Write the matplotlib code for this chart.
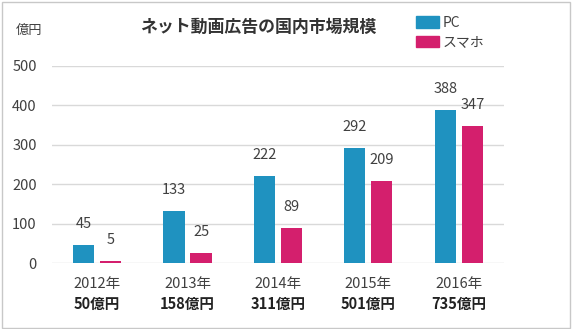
import matplotlib
matplotlib.use("Agg")
import matplotlib.pyplot as plt
import numpy as np
from matplotlib.patches import Rectangle, Patch
from matplotlib.transforms import blended_transform_factory

plt.rcParams['font.family'] = ['Noto Sans CJK JP', 'DejaVu Sans']

# data
years = ["2012年", "2013年", "2014年", "2015年", "2016年"]
totals = ["50億円", "158億円", "311億円", "501億円", "735億円"]
pc = [45, 133, 222, 292, 388]
smartphone = [5, 25, 89, 209, 347]

pc_color = "#1f92c0"
sp_color = "#d41f6d"
text_color = "#404040"

fig = plt.figure(figsize=(5.72, 3.29), dpi=100)
ax = fig.add_axes([0.0909, 0.2006, 0.79, 0.5988])

x = np.arange(len(years))
w = 0.235
bars_pc = ax.bar(x - 0.15, pc, w, color=pc_color, label="PC", zorder=3)
bars_sp = ax.bar(x + 0.15, smartphone, w, color=sp_color, label="スマホ", zorder=3)

for bars in (bars_pc, bars_sp):
    for b in bars:
        ax.annotate(f"{b.get_height():.0f}", (b.get_x() + b.get_width() / 2, b.get_height()),
                    xytext=(0, 15), textcoords="offset points", ha="center", va="center",
                    fontsize=10.5, color=text_color)

ax.set_xlim(-0.5, 4.5)
ax.set_ylim(0, 500)
ax.set_yticks(range(0, 501, 100))
ax.yaxis.grid(True, color="#d9d9d9", linewidth=1)
ax.set_axisbelow(True)
for s in ax.spines.values():
    s.set_visible(False)
ax.tick_params(length=0, labelsize=10.5, colors=text_color)
ax.tick_params(axis="y", pad=11)
ax.set_xticks(x)
ax.set_xticklabels(years)
ax.tick_params(axis="x", pad=10)

trans = blended_transform_factory(ax.transData, fig.transFigure)
for i, t in enumerate(totals):
    ax.text(i, 1 - 304 / 329, t, transform=trans, ha="center", va="center",
            fontsize=10.5, fontweight="bold", color="#222222")

fig.text(0.452, 1 - 27 / 329, "ネット動画広告の国内市場規模", ha="center", va="center",
         fontsize=12.2, fontweight="bold", color="#333333")
fig.text(0.05, 1 - 30 / 329, "億円", ha="center", va="center", fontsize=9.5, color=text_color)

handles = [Patch(color=pc_color, label="PC"), Patch(color=sp_color, label="スマホ")]
fig.legend(handles=handles, loc="upper left", bbox_to_anchor=(0.705, 0.99), frameon=False,
           fontsize=10, handlelength=1.7, handleheight=0.9, handletextpad=0.25,
           labelspacing=0.4, labelcolor=text_color)

fig.patches.append(Rectangle((0.003, 0.004), 0.994, 0.99, transform=fig.transFigure,
                             fill=False, edgecolor="#c8c8c8", linewidth=1))

fig.savefig("out.png", dpi=100)
